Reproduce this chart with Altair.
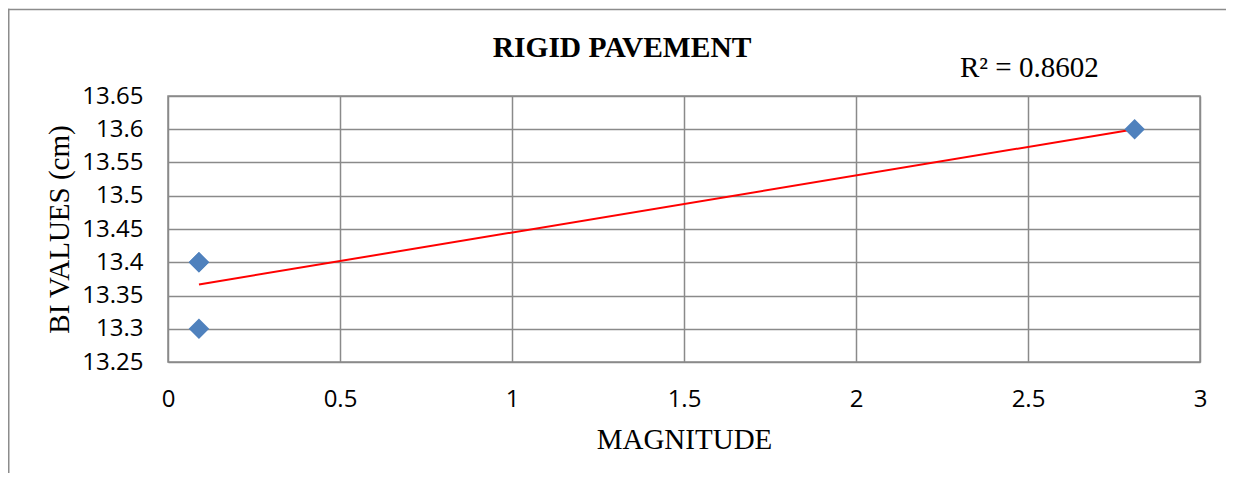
import altair as alt
import pandas as pd

# Data
magnitude = [0.09, 0.09, 0.09, 2.81]
bi_values = [13.3, 13.4, 13.4, 13.6]
x_ticks = [0, 0.5, 1, 1.5, 2, 2.5, 3]
y_ticks = [13.25, 13.3, 13.35, 13.4, 13.45, 13.5, 13.55, 13.6, 13.65]
title_text = "RIGID PAVEMENT"
r2_text = "R\u00b2 = 0.8602"
x_title = "MAGNITUDE"
y_title = "BI VALUES (cm)"

df = pd.DataFrame({"x": magnitude, "y": bi_values})

GRID = "#8a8a8a"
SERIF = "Liberation Serif"
SANS = "Open Sans"

W, H = 1032, 266

xscale = alt.Scale(domain=[0, 3], nice=False, zero=False)
yscale = alt.Scale(domain=[13.25, 13.65], nice=False, zero=False)

common = dict(grid=True, gridColor=GRID, gridWidth=1.5, gridOpacity=1,
              ticks=False, domain=False, labelFont=SANS, labelFontSize=24,
              labelColor="black", labelPadding=25, labelOverlap=False, labelFlush=False,
              labelBound=False, titleFont=SERIF, titleFontSize=29,
              titleFontWeight="normal", titleColor="black", titleBaseline="alphabetic")

xaxis = alt.Axis(values=x_ticks, labelExpr="format(datum.value, '~g')",
                 title=x_title, titleY=86, **common)
yaxis = alt.Axis(values=y_ticks, labelExpr="format(datum.value, '.2~f')",
                 title=y_title, titleX=-99.5, **common)

base = alt.Chart(df)

points = base.mark_point(shape="diamond", filled=True, size=420, color="#4F81BD", opacity=1).encode(
    x=alt.X("x:Q", scale=xscale, axis=xaxis),
    y=alt.Y("y:Q", scale=yscale, axis=yaxis),
)

trend = base.transform_regression("x", "y").mark_line(color="#FF0000", strokeWidth=2).encode(
    x=alt.X("x:Q", scale=xscale, axis=xaxis),
    y=alt.Y("y:Q", scale=yscale, axis=yaxis),
)

title = alt.Chart(alt.Data(values=[{"t": title_text}])).mark_text(
    font=SERIF, fontSize=29.5, fontWeight="bold", color="black", align="center", baseline="alphabetic"
).encode(x=alt.value(454), y=alt.value(-39.5), text="t:N")

r2 = alt.Chart(alt.Data(values=[{"t": r2_text}])).mark_text(
    font=SERIF, fontSize=29, color="black", align="left", baseline="alphabetic"
).encode(x=alt.value(792), y=alt.value(-19), text="t:N")

frame_top = alt.Chart(alt.Data(values=[{"a": 1}])).mark_rule(
    stroke="#8c8c8c", strokeWidth=1.5
).encode(x=alt.value(-160), x2=alt.value(1300), y=alt.value(-86.5))

frame_left = alt.Chart(alt.Data(values=[{"a": 1}])).mark_rule(
    stroke="#8c8c8c", strokeWidth=1.5
).encode(x=alt.value(-159.25), x2=alt.value(-159.25), y=alt.value(-87.25), y2=alt.value(377))

chart = alt.layer(frame_top, frame_left, trend, points, title, r2).properties(
    width=W, height=H,
    autosize=alt.AutoSizeParams(type="none"),
    padding={"left": 160, "top": 88, "right": 26, "bottom": 111},
    background="white",
).configure_view(stroke=GRID, strokeWidth=1.5)

chart.save("out.html", embed_options={"renderer": "svg", "actions": False})
